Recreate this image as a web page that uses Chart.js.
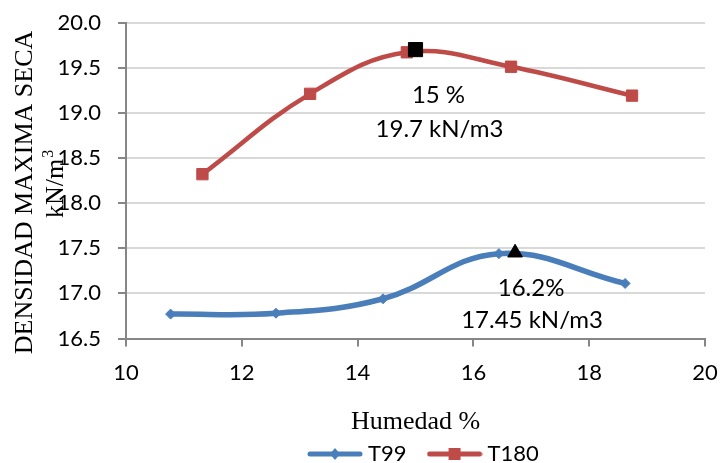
<!DOCTYPE html>
<html><head><meta charset="utf-8">
<script src="https://cdn.jsdelivr.net/npm/chart.js@4/dist/chart.umd.min.js"></script>
<style>html,body{margin:0;padding:0;background:#fff}#wrap{width:720px;height:463px}</style>
</head><body><div id="wrap"><canvas id="c" width="720" height="463"></canvas></div>
<script>
// ---- data ----
const seriesNames = ["T99", "T180"];
const humedadT99 = [10.77, 12.59, 14.44, 16.44, 18.62];
const densidadT99 = [16.77, 16.78, 16.94, 17.44, 17.11];
const humedadT180 = [11.32, 13.18, 14.85, 16.65, 18.74];
const densidadT180 = [18.32, 19.21, 19.67, 19.51, 19.19];
const optimoHumedad = [16.72, 15.0];
const optimoDensidad = [17.45, 19.70];
const optimoTextos = [["16.2%", "17.45 kN/m3"], ["15 %", "19.7 kN/m3"]];
const xTicks = [10, 12, 14, 16, 18, 20];
const yTicks = [16.5, 17.0, 17.5, 18.0, 18.5, 19.0, 19.5, 20.0];
const xTitle = "Humedad %";
const yTitle = "DENSIDAD MAXIMA SECA";
const yUnit = "kN/m";
const yUnitSup = "3";

const BLUE = '#4a7ebb', RED = '#be4b48', AXIS = '#868686', GRID = '#d9d9d9';
const TICKFONT = {family: 'Lato', size: 22};

function pts(xs, ys) { return xs.map((x, i) => ({x: x, y: ys[i]})); }

function legendImg(color, style) {
  const c = document.createElement('canvas');
  c.width = 56; c.height = 16;
  const g = c.getContext('2d');
  g.strokeStyle = color; g.lineWidth = 5; g.lineCap = 'round';
  g.beginPath(); g.moveTo(3, 8); g.lineTo(53, 8); g.stroke();
  g.fillStyle = color;
  g.beginPath();
  if (style === 'diamond') { g.moveTo(28, 2); g.lineTo(33, 8); g.lineTo(28, 14); g.lineTo(23, 8); g.closePath(); }
  else { g.rect(22, 2, 12, 12); }
  g.fill();
  return c;
}
const legendImgs = [legendImg(BLUE, 'diamond'), legendImg(RED, 'square')];

const annotPlugin = {
  id: 'annot',
  afterDatasetsDraw(chart) {
    const ctx = chart.ctx, xs = chart.scales.x, ys = chart.scales.y;
    const offs = [[[16, 43], [17, 75]], [[23, 53], [24, 87]]];
    ctx.save();
    ctx.fillStyle = '#000';
    ctx.font = '24px Lato';
    ctx.textAlign = 'center';
    ctx.textBaseline = 'alphabetic';
    optimoTextos.forEach((lines, i) => {
      const px = xs.getPixelForValue(optimoHumedad[i]);
      const py = ys.getPixelForValue(optimoDensidad[i]);
      lines.forEach((t, j) => ctx.fillText(t, px + offs[i][j][0], py + offs[i][j][1]));
    });
    ctx.restore();
  }
};

const yTitlePlugin = {
  id: 'ytitle',
  afterDraw(chart) {
    const ctx = chart.ctx;
    ctx.save();
    ctx.fillStyle = '#000';
    ctx.font = '26px "Liberation Serif"';
    ctx.textAlign = 'center';
    ctx.textBaseline = 'alphabetic';
    ctx.translate(32, 192.5);
    ctx.rotate(-Math.PI / 2);
    ctx.fillText(yTitle, 0, 0);
    ctx.restore();
    ctx.save();
    ctx.fillStyle = '#000';
    ctx.font = '26px "Liberation Serif"';
    ctx.textAlign = 'left';
    ctx.textBaseline = 'alphabetic';
    ctx.translate(63, 218);
    ctx.rotate(-Math.PI / 2);
    ctx.fillText(yUnit, 0, 0);
    const w = ctx.measureText(yUnit).width;
    ctx.font = '16px "Liberation Serif"';
    ctx.fillText(yUnitSup, w + 1, -10);
    ctx.restore();
  }
};

const legendPosPlugin = {
  id: 'legendPos',
  afterLayout(chart) {
    const lg = chart.legend;
    if (!lg) return;
    lg.left = 287; lg.right = lg.left + 705;
    lg.top = 417; lg.bottom = 463;
  }
};

new Chart(document.getElementById('c'), {
  type: 'scatter',
  data: {
    datasets: [
      {label: seriesNames[0], data: pts(humedadT99, densidadT99), showLine: true, tension: 0.4, order: 2,
       borderColor: BLUE, backgroundColor: BLUE, borderWidth: 5.5,
       pointStyle: 'rectRot', pointRadius: 5, pointBorderWidth: 1, pointBackgroundColor: BLUE, pointBorderColor: BLUE},
      {label: seriesNames[1], data: pts(humedadT180, densidadT180), showLine: true, tension: 0.4, order: 2,
       borderColor: RED, backgroundColor: RED, borderWidth: 4.5,
       pointStyle: 'rect', pointRadius: 8, pointBorderWidth: 1, pointBackgroundColor: RED, pointBorderColor: RED},
      {label: 'opt T99', data: [{x: optimoHumedad[0], y: optimoDensidad[0]}], showLine: false, order: 0,
       pointStyle: 'triangle', pointRadius: 8.5, pointBorderWidth: 1, pointBackgroundColor: '#000', pointBorderColor: '#000'},
      {label: 'opt T180', data: [{x: optimoHumedad[1], y: optimoDensidad[1]}], showLine: false, order: 0,
       pointStyle: 'rect', pointRadius: 10, pointBorderWidth: 1, pointBackgroundColor: '#000', pointBorderColor: '#000'}
    ]
  },
  options: {
    responsive: false,
    animation: false,
    devicePixelRatio: 1,
    layout: {padding: {left: 0, right: 15, top: 22.5, bottom: 0}},
    plugins: {
      tooltip: {enabled: false},
      legend: {
        position: 'bottom',
        align: 'start',
        maxHeight: 20,
        labels: {
          usePointStyle: true,
          pointStyleWidth: 44,
          padding: 26,
          color: '#000',
          font: {family: 'Lato', size: 22},
          generateLabels: (chart) => [0, 1].map(i => ({
            text: chart.data.datasets[i].label,
            pointStyle: legendImgs[i],
            fillStyle: chart.data.datasets[i].borderColor,
            strokeStyle: chart.data.datasets[i].borderColor,
            lineWidth: 0,
            hidden: false,
            datasetIndex: i,
            fontColor: '#000'
          }))
        }
      }
    },
    scales: {
      x: {
        type: 'linear', min: 10, max: 20,
        afterBuildTicks: s => { s.ticks = xTicks.map(v => ({value: v})); },
        afterFit: s => { s.height = 104.5; s.paddingLeft = 0; s.paddingRight = 0; },
        grid: {drawOnChartArea: false, drawTicks: true, tickLength: 8, tickColor: AXIS, lineWidth: 2, color: AXIS},
        border: {color: AXIS, width: 2},
        ticks: {color: '#000', font: TICKFONT, padding: 13, maxRotation: 0, autoSkip: false},
        title: {display: true, text: xTitle, color: '#000', font: {family: 'Liberation Serif', size: 26}, padding: {top: 0, bottom: 5}}
      },
      y: {
        type: 'linear', min: 16.5, max: 20,
        afterBuildTicks: s => { s.ticks = yTicks.map(v => ({value: v})); },
        afterFit: s => { s.width = 126; s.paddingTop = 0; s.paddingBottom = 0; },
        grid: {color: GRID, lineWidth: 2, drawTicks: true, tickLength: 8, tickColor: AXIS},
        border: {color: AXIS, width: 2},
        ticks: {color: '#000', font: TICKFONT, padding: 17, callback: v => Number(v).toFixed(1), autoSkip: false}
      }
    }
  },
  plugins: [annotPlugin, yTitlePlugin, legendPosPlugin]
});
</script>
</body></html>
